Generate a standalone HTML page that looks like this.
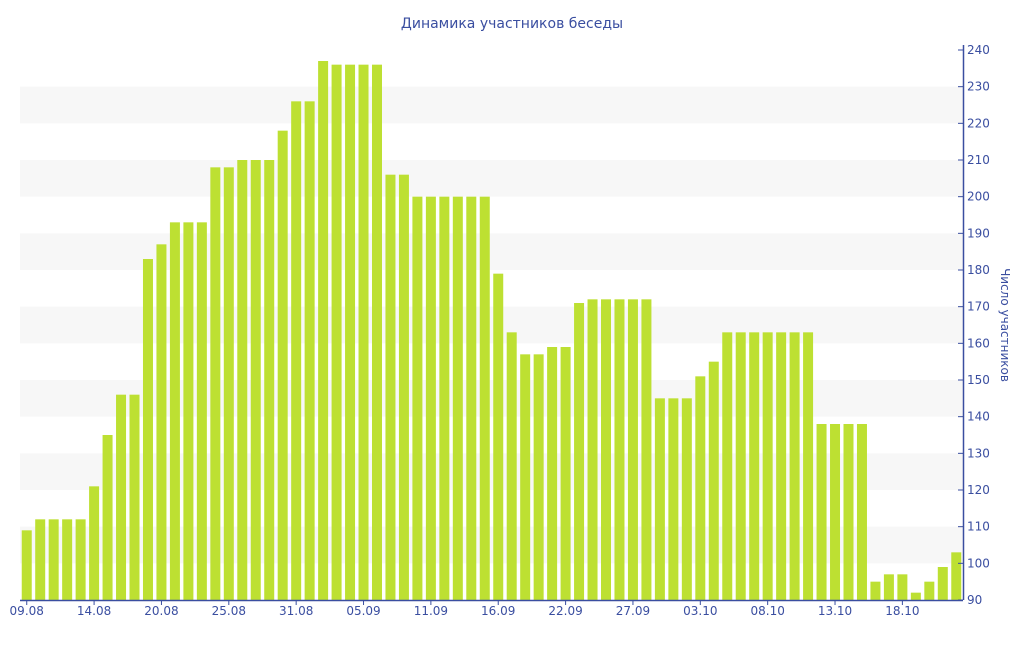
<!DOCTYPE html>
<html><head><meta charset="utf-8">
<style>
body{margin:0;background:#fff;font-family:"Liberation Sans","DejaVu Sans",sans-serif}
svg text{font-family:"DejaVu Sans","Liberation Sans",sans-serif}
</style></head>
<body>
<svg id="c" width="1024" height="640">
<text x="512" y="28" text-anchor="middle" font-size="14" fill="#3a4ea0">Динамика участников беседы</text>
<g id="grid"></g><g id="bars"></g><g id="axes"></g>
<text transform="translate(1001,325) rotate(90)" text-anchor="middle" font-size="12" fill="#3a4ea0">Число участников</text>
</svg>
<script>
const values=[109,112,112,112,112,121,135,146,146,183,187,193,193,193,208,208,210,210,210,218,226,226,237,236,236,236,236,206,206,200,200,200,200,200,200,179,163,157,157,159,159,171,172,172,172,172,172,145,145,145,151,155,163,163,163,163,163,163,163,138,138,138,138,95,97,97,92,95,99,103];
const dateLabels=["09.08","14.08","20.08","25.08","31.08","05.09","11.09","16.09","22.09","27.09","03.10","08.10","13.10","18.10"];
const dateIdx=[0,5,10,15,20,25,30,35,40,45,50,55,60,65];
const yTicks=[90,100,110,120,130,140,150,160,170,180,190,200,210,220,230,240];
const L=20,R=963,T=50,B=600,ymin=90,ymax=240;
const band=(R-L)/values.length;
const xs=i=>L+band*(i+0.5);
const ys=v=>B-(v-ymin)/(ymax-ymin)*(B-T);
const NS="http://www.w3.org/2000/svg";
function mk(p,t,a){const e=document.createElementNS(NS,t);for(const k in a)e.setAttribute(k,a[k]);p.appendChild(e);return e;}
const grid=document.getElementById('grid'),bars=document.getElementById('bars'),axes=document.getElementById('axes');
for(let v=100;v<240;v+=20){const r=mk(grid,'rect',{x:L,y:ys(v+10),width:R-L,height:ys(v)-ys(v+10),fill:'#f7f7f7'});

}
values.forEach((v,i)=>{const r=mk(bars,'rect',{x:xs(i)-5,y:ys(v),width:10,height:B-ys(v),fill:'#bde032'});

});
const xa=mk(axes,'line',{x1:L,y1:B+0.5,x2:R,y2:B+0.5,stroke:'#3a4ea0','stroke-width':1.5});


const ya=mk(axes,'line',{x1:R+0.5,y1:T-5,x2:R+0.5,y2:B,stroke:'#3a4ea0','stroke-width':1.5});


yTicks.forEach(v=>{const y=ys(v);mk(axes,'line',{x1:R-5,y1:y,x2:R,y2:y,stroke:'#3a4ea0'});
const t=mk(axes,'text',{x:R+4,y:y+4,'font-size':12,fill:'#3a4ea0'});t.textContent=v;

});
dateLabels.forEach((d,k)=>{const x=xs(dateIdx[k]);mk(axes,'line',{x1:x,y1:B,x2:x,y2:B+5,stroke:'#3a4ea0'});
const t=mk(axes,'text',{x:x,y:B+15,'font-size':12,fill:'#3a4ea0','text-anchor':'middle'});t.textContent=d;

});
</script>
</body></html>
